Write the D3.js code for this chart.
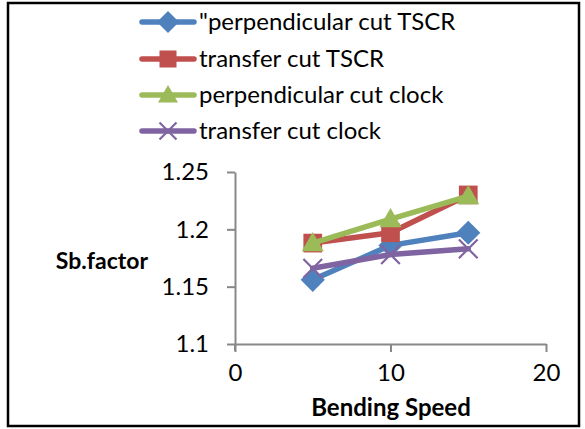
<!DOCTYPE html>
<html><head><meta charset="utf-8">
<script src="https://cdn.jsdelivr.net/npm/d3@7"></script>
<style>body{margin:0;background:#fff}svg{display:block}text{font-family:Lato,"Open Sans",sans-serif}</style>
</head><body><svg id="c" width="585" height="429"></svg>
<script>
const xValues = [5, 10, 15];
const seriesNames = ["\"perpendicular cut TSCR", "transfer cut TSCR", "perpendicular cut clock", "transfer cut clock"];
const perpTSCR = [1.156, 1.186, 1.197];
const transTSCR = [1.188, 1.197, 1.230];
const perpClock = [1.188, 1.209, 1.229];
const transClock = [1.166, 1.178, 1.183];
const xTicks = [0, 10, 20];
const yTicks = [1.1, 1.15, 1.2, 1.25];
const colors = ["#4F81BD", "#C0504D", "#9BBB59", "#8064A2"];
const markers = ["diamond", "square", "triangle", "x"];
const seriesValues = [perpTSCR, transTSCR, perpClock, transClock];

const svg = d3.select("#c");
svg.append("rect").attr("x", 8).attr("y", 3).attr("width", 571).attr("height", 423)
  .attr("fill", "none").attr("stroke", "#000").attr("stroke-width", 2.5);

const x = d3.scaleLinear().domain([0, 20]).range([235, 546]);
const y = d3.scaleLinear().domain([1.1, 1.25]).range([344, 172]);

const xAxis = svg.append("g").attr("transform", "translate(0,344)")
  .call(d3.axisBottom(x).tickValues(xTicks).tickSize(8).tickSizeOuter(0).tickPadding(12).tickFormat(d3.format("d")));
const yAxis = svg.append("g").attr("transform", "translate(235,0)")
  .call(d3.axisLeft(y).tickValues(yTicks).tickSize(8).tickSizeOuter(0).tickPadding(18).tickFormat(d => String(+d)));
[xAxis, yAxis].forEach(a => {
  a.select(".domain").attr("stroke", "#888").attr("stroke-width", 2);
  a.selectAll(".tick line").attr("stroke", "#888").attr("stroke-width", 2);
  a.selectAll("text").attr("fill", "#000").style("font-size", "24px").style("font-family", "Lato,'Open Sans',sans-serif");
});
svg.append("line").attr("x1", 235).attr("x2", 235).attr("y1", 344).attr("y2", 351).attr("stroke", "#888").attr("stroke-width", 2);

svg.append("text").attr("x", 148).attr("y", 269).attr("text-anchor", "end").text("Sb.factor")
  .style("font-size", "23px").style("font-weight", "bold");
svg.append("text").attr("x", 391).attr("y", 416).attr("text-anchor", "middle").text("Bending Speed")
  .style("font-size", "24px").style("font-weight", "bold");

function drawMarker(g, type, color, cx, cy, s) {
  if (type === "diamond") {
    const d = s * 1.1;
    g.append("path").attr("d", `M${cx},${cy - d}L${cx + d},${cy}L${cx},${cy + d}L${cx - d},${cy}Z`).attr("fill", color);
  } else if (type === "square") {
    g.append("rect").attr("x", cx - s * 0.85).attr("y", cy - s * 0.85).attr("width", s * 1.7).attr("height", s * 1.7).attr("fill", color);
  } else if (type === "triangle") {
    g.append("path").attr("d", `M${cx},${cy - s}L${cx + s},${cy + s * 0.75}L${cx - s},${cy + s * 0.75}Z`).attr("fill", color);
  } else {
    const k = s * 0.85;
    g.append("path").attr("d", `M${cx - k},${cy - k}L${cx + k},${cy + k}M${cx - k},${cy + k}L${cx + k},${cy - k}`)
      .attr("stroke", color).attr("stroke-width", 2.2).attr("fill", "none");
  }
}

const line = d3.line().x((d, i) => x(xValues[i])).y(d => y(d));
seriesValues.forEach((vals, si) => {
  const g = svg.append("g");
  g.append("path").attr("d", line(vals)).attr("fill", "none").attr("stroke", colors[si])
    .attr("stroke-width", 5.5).attr("stroke-linejoin", "round").attr("stroke-linecap", "round");
  vals.forEach((v, i) => drawMarker(g, markers[si], colors[si], x(xValues[i]), y(v), 11));
});

const legendY = [22, 59, 95, 131];
seriesNames.forEach((name, i) => {
  const g = svg.append("g");
  g.append("line").attr("x1", 142).attr("x2", 194).attr("y1", legendY[i]).attr("y2", legendY[i])
    .attr("stroke", colors[i]).attr("stroke-width", 5.5).attr("stroke-linecap", "round");
  drawMarker(g, markers[i], colors[i], 168, legendY[i], 10);
  g.append("text").attr("x", 199).attr("y", legendY[i] + 8).text(name).style("font-size", "24px");
});
</script></body></html>
